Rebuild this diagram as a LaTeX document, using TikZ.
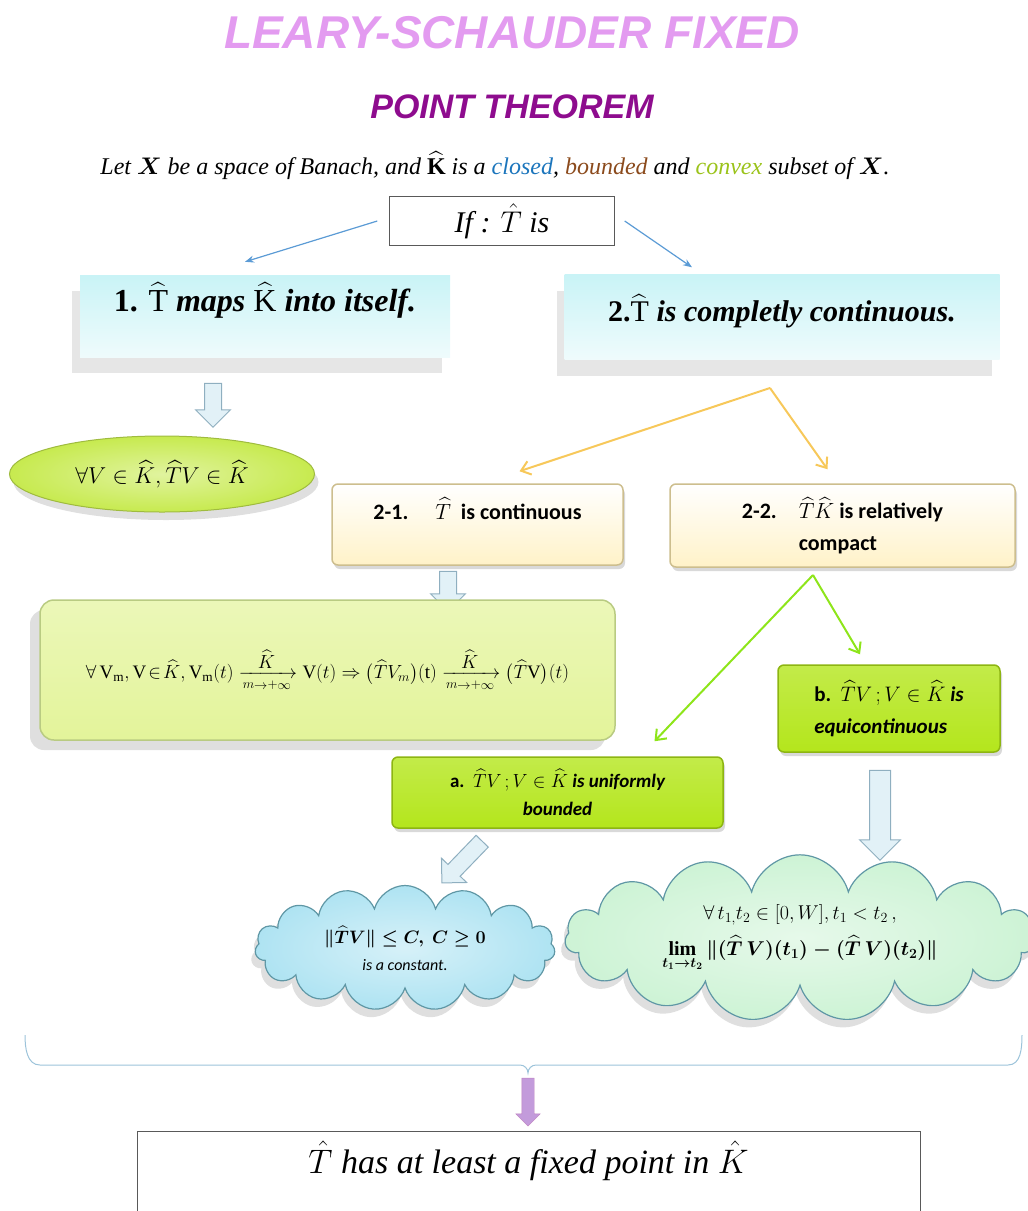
\documentclass[tikz,border=0pt]{standalone}
\usepackage{fix-cm}
\usepackage{amsmath}
\usepackage{fontspec}
\setmainfont{Liberation Serif}
\newfontfamily\calibfont{Carlito}
\newfontfamily\headfont{Liberation Sans}
\usepackage{tikz}
\usetikzlibrary{arrows.meta, shapes.arrows, shapes.symbols, shapes.geometric, shadows, calc, positioning}
\usepackage{xcolor}

\definecolor{titlepink}{HTML}{E39BF0}
\definecolor{titlepurple}{HTML}{8E0C8E}
\definecolor{closedblue}{HTML}{1B75BC}
\definecolor{boundbrown}{HTML}{8B4A1C}
\definecolor{convexgreen}{HTML}{9BC31B}
\definecolor{skyline}{HTML}{5B9BD5}
\definecolor{palecyan}{HTML}{C9F3F6}
\definecolor{orangeline}{HTML}{F7C85A}
\definecolor{limeline}{HTML}{8EE51A}
\definecolor{creamfill}{HTML}{FFF2C8}
\definecolor{creamedge}{HTML}{CDBE8E}
\definecolor{limefill}{HTML}{E3F49A}
\definecolor{limeedge}{HTML}{B9CB82}
\definecolor{greenfill}{HTML}{B4E61C}
\definecolor{greenedge}{HTML}{8DB512}
\definecolor{ellfill}{HTML}{C7EA4F}
\definecolor{arrfill}{HTML}{E2F1F7}
\definecolor{arredge}{HTML}{8FAFC0}
\definecolor{cloudblue}{HTML}{AEE3F2}
\definecolor{cloudgreen}{HTML}{CDF3D5}
\definecolor{cloudedge}{HTML}{5F97A5}
\definecolor{bracecol}{HTML}{9CC3DA}
\definecolor{violetarr}{HTML}{C39BDB}

\begin{document}
\begin{tikzpicture}[x=1pt, y=-1pt,
  pale/.style={rectangle, top color=palecyan, bottom color=palecyan!30, draw=none,
    inner sep=6pt, font=\bfseries\itshape\fontsize{32}{34}\selectfont,
    drop shadow={shadow xshift=-8pt, shadow yshift=-16pt, opacity=.2}},
  creambox/.style={rectangle, rounded corners=6pt, top color=white, bottom color=creamfill,
    draw=creamedge, line width=1.5pt, inner sep=6pt, font=\calibfont\bfseries\fontsize{22}{32}\selectfont,
    drop shadow={shadow xshift=2pt, shadow yshift=-4pt, opacity=.3}},
  greenbox/.style={rectangle, rounded corners=6pt, top color=greenfill!80, bottom color=greenfill,
    draw=greenedge, line width=1.5pt, font=\calibfont\bfseries\itshape\fontsize{21}{32}\selectfont,
    drop shadow={shadow xshift=2pt, shadow yshift=-4pt, opacity=.3}},
  blockarrow/.style={single arrow, draw=arredge, fill=arrfill, line width=1pt, inner xsep=0pt,
    inner ysep=8pt, single arrow head extend=9pt, single arrow head indent=0pt},
  puff/.style={cloud, cloud puffs=15, cloud ignores aspect, draw=cloudedge, line width=1.2pt,
    drop shadow={shadow xshift=-4pt, shadow yshift=-8pt, opacity=.25}},
  bluelink/.style={skyline, line width=1.2pt, -{Stealth[length=9pt, width=7pt]}},
  yellowlink/.style={orangeline, line width=2pt, -{Straight Barb[length=9pt, width=14pt]}},
  limelink/.style={limeline, line width=2pt, -{Straight Barb[length=9pt, width=14pt]}}]

  \useasboundingbox (0,0) rectangle (1028,1211);
  \clip (0,0) rectangle (1028,1211);

  % titles
  \node[text=titlepink, font=\headfont\bfseries\itshape\fontsize{46}{50}\selectfont] (title) at (512,33) {LEARY-SCHAUDER FIXED};
  \node[text=titlepurple, font=\headfont\bfseries\itshape\fontsize{34}{36}\selectfont] (subtitle) at (512,107) {POINT THEOREM};
  \node[font=\itshape\fontsize{24}{26}\selectfont] (hyp) at (495,166)
    {Let $\boldsymbol{X}$ be a space of Banach, and $\widehat{\mathbf{K}}$ is a \textcolor{closedblue}{closed}, \textcolor{boundbrown}{bounded} and \textcolor{convexgreen}{convex} subset of $\boldsymbol{X}$.};

  \node[draw=gray!70!black, fill=white, minimum width=225pt, minimum height=49pt,
    font=\itshape\fontsize{30}{32}\selectfont] (ifbox) at (502,221) {If : $\hat{T}$ is};

  % two hypotheses
  \node[pale, minimum width=370pt, text height=30pt, text depth=40pt] (maps) at (265,316)
    {\upshape 1. $\widehat{\mathrm{T}}$ \itshape maps $\widehat{\mathrm{K}}$ into itself.};
  \node[pale, minimum width=435pt, text height=41pt, text depth=32pt, font=\bfseries\itshape\fontsize{30}{32}\selectfont] (compl) at (782,317)
    {\upshape 2.$\widehat{\mathrm{T}}$ \itshape is completly continuous.};

  \draw[bluelink] ([xshift=-12pt]ifbox.west) -- ([xshift=-20pt, yshift=13pt]maps.north);
  \draw[bluelink] ([xshift=10pt]ifbox.east) -- ([xshift=-90pt, yshift=7pt]compl.north);

  % left branch
  \node[blockarrow, minimum height=44pt, rotate=-90] (down1) at (213,401) {};
  \node[ellipse, minimum width=305pt, minimum height=76pt, inner color=ellfill!55, outer color=ellfill,
    draw=ellfill!80!black, line width=1pt, font=\fontsize{23}{25}\selectfont,
    drop shadow={shadow xshift=4pt, shadow yshift=-8pt, opacity=.25}] (inK) at (162,474)
    {$\forall V\in\widehat{K},\widehat{T}V\in\widehat{K}$};

  % right branch
  \coordinate (fork) at (770,388);
  \node[creambox, minimum width=291pt, text height=29pt, text depth=40pt] (cont) at (477.5,524.5)
    {2-1.\quad\ $\widehat{T}$\ \ is continuous};
  \node[creambox, minimum width=345pt, minimum height=83pt, align=left] (relc) at (842.5,525.5)
    {2-2.\quad $\widehat{T}\widehat{K}$ is relatively\\\phantom{2-2.\quad}compact};
  \draw[yellowlink] (fork) -- ([xshift=42pt, yshift=12pt]cont.north);
  \draw[yellowlink] (fork) -- ([xshift=-15pt, yshift=14pt]relc.north);

  \node[blockarrow, minimum height=40pt, rotate=-90] (down2) at (448,587) {};
  \node[rectangle, rounded corners=14pt, top color=limefill!70, bottom color=limefill,
    draw=limeedge, line width=1.5pt, minimum width=575pt, minimum height=140pt,
    font=\fontsize{19}{22}\selectfont,
    drop shadow={shadow xshift=-10pt, shadow yshift=-10pt, opacity=.25}] (seq) at (327.5,670)
    {$\forall\,\mathrm{V_m},\mathrm{V}\!\in\!\widehat{K},\mathrm{V_m}(t)\xrightarrow[m\to+\infty]{\textstyle\widehat{K}}\mathrm{V}(t)\Rightarrow\bigl(\widehat{T}V_m\bigr)(\mathrm{t})\xrightarrow[m\to+\infty]{\textstyle\widehat{K}}\bigl(\widehat{T}\mathrm{V}\bigr)(t)$};

  % compactness
  \coordinate (fork2) at (813,575);
  \node[greenbox, minimum width=222pt, minimum height=87pt, align=left] (equi) at (889,708.5)
    {\upshape b.\ \ \itshape$\widehat{T}V\,;V\in\widehat{K}$ is\\equicontinuous};
  \node[greenbox, minimum width=331pt, minimum height=71pt, align=center, font=\calibfont\bfseries\itshape\fontsize{19}{28}\selectfont] (unif) at (557.5,792.5)
    {\upshape a.\ \ \itshape$\widehat{T}V\,;V\in\widehat{K}$ is uniformly\\bounded};
  \draw[limelink] (fork2) -- ([xshift=97pt, yshift=15pt]unif.north);
  \draw[limelink] (fork2) -- ([xshift=-29pt, yshift=10pt]equi.north);

  \node[blockarrow, minimum height=58pt, rotate=226] (down3) at (465,859) {};
  \node[blockarrow, minimum height=90pt, inner ysep=10pt, single arrow head extend=10pt, rotate=-90] (down4) at (880,810) {};

  % clouds
  \node[puff, minimum width=300pt, minimum height=125pt, inner color=cloudblue!50, outer color=cloudblue,
    align=center, font=\fontsize{18}{27}\selectfont] (bound) at (405,948)
    {$\boldsymbol{\|\widehat{T}V\|\le C,\ C\ge 0}$\\ \calibfont\itshape\fontsize{16}{18}\selectfont is a constant.};
  \node[puff, minimum width=470pt, minimum height=142pt, inner color=cloudgreen!50, outer color=cloudgreen,
    align=center, font=\fontsize{20}{36}\selectfont] (eqc) at (800,938)
    {$\forall\,t_{1,}t_2\in[0,W],t_1<t_2\,,$\\ $\boldsymbol{\lim\limits_{t_1\to t_2}\|(\widehat{T}\,V)(t_1)-(\widehat{T}\,V)(t_2)\|}$};

  % brace
  \draw[bracecol, line width=1pt] (25,1035) to[out=-90, in=180] (40,1065) -- (520,1065)
    to[out=0, in=90] (528,1073) to[out=90, in=180] (536,1065) -- (1008,1065) to[out=0, in=-90] (1022,1035);

  \node[single arrow, draw=violet!50, fill=violetarr, inner xsep=0pt, inner ysep=6pt,
    minimum height=48pt, single arrow head extend=6pt, single arrow head indent=0pt, rotate=-90] (conc) at (528,1099) {};

  % conclusion
  \node[draw=gray!70!black, fill=white, minimum width=783pt, text height=36pt, text depth=44pt,
    inner sep=6pt, font=\itshape\fontsize{34}{36}\selectfont] (fixed) at (528.5,1177)
    {$\hat{T}$\ has at least a fixed point in $\hat{K}$};
\end{tikzpicture}
\end{document}
